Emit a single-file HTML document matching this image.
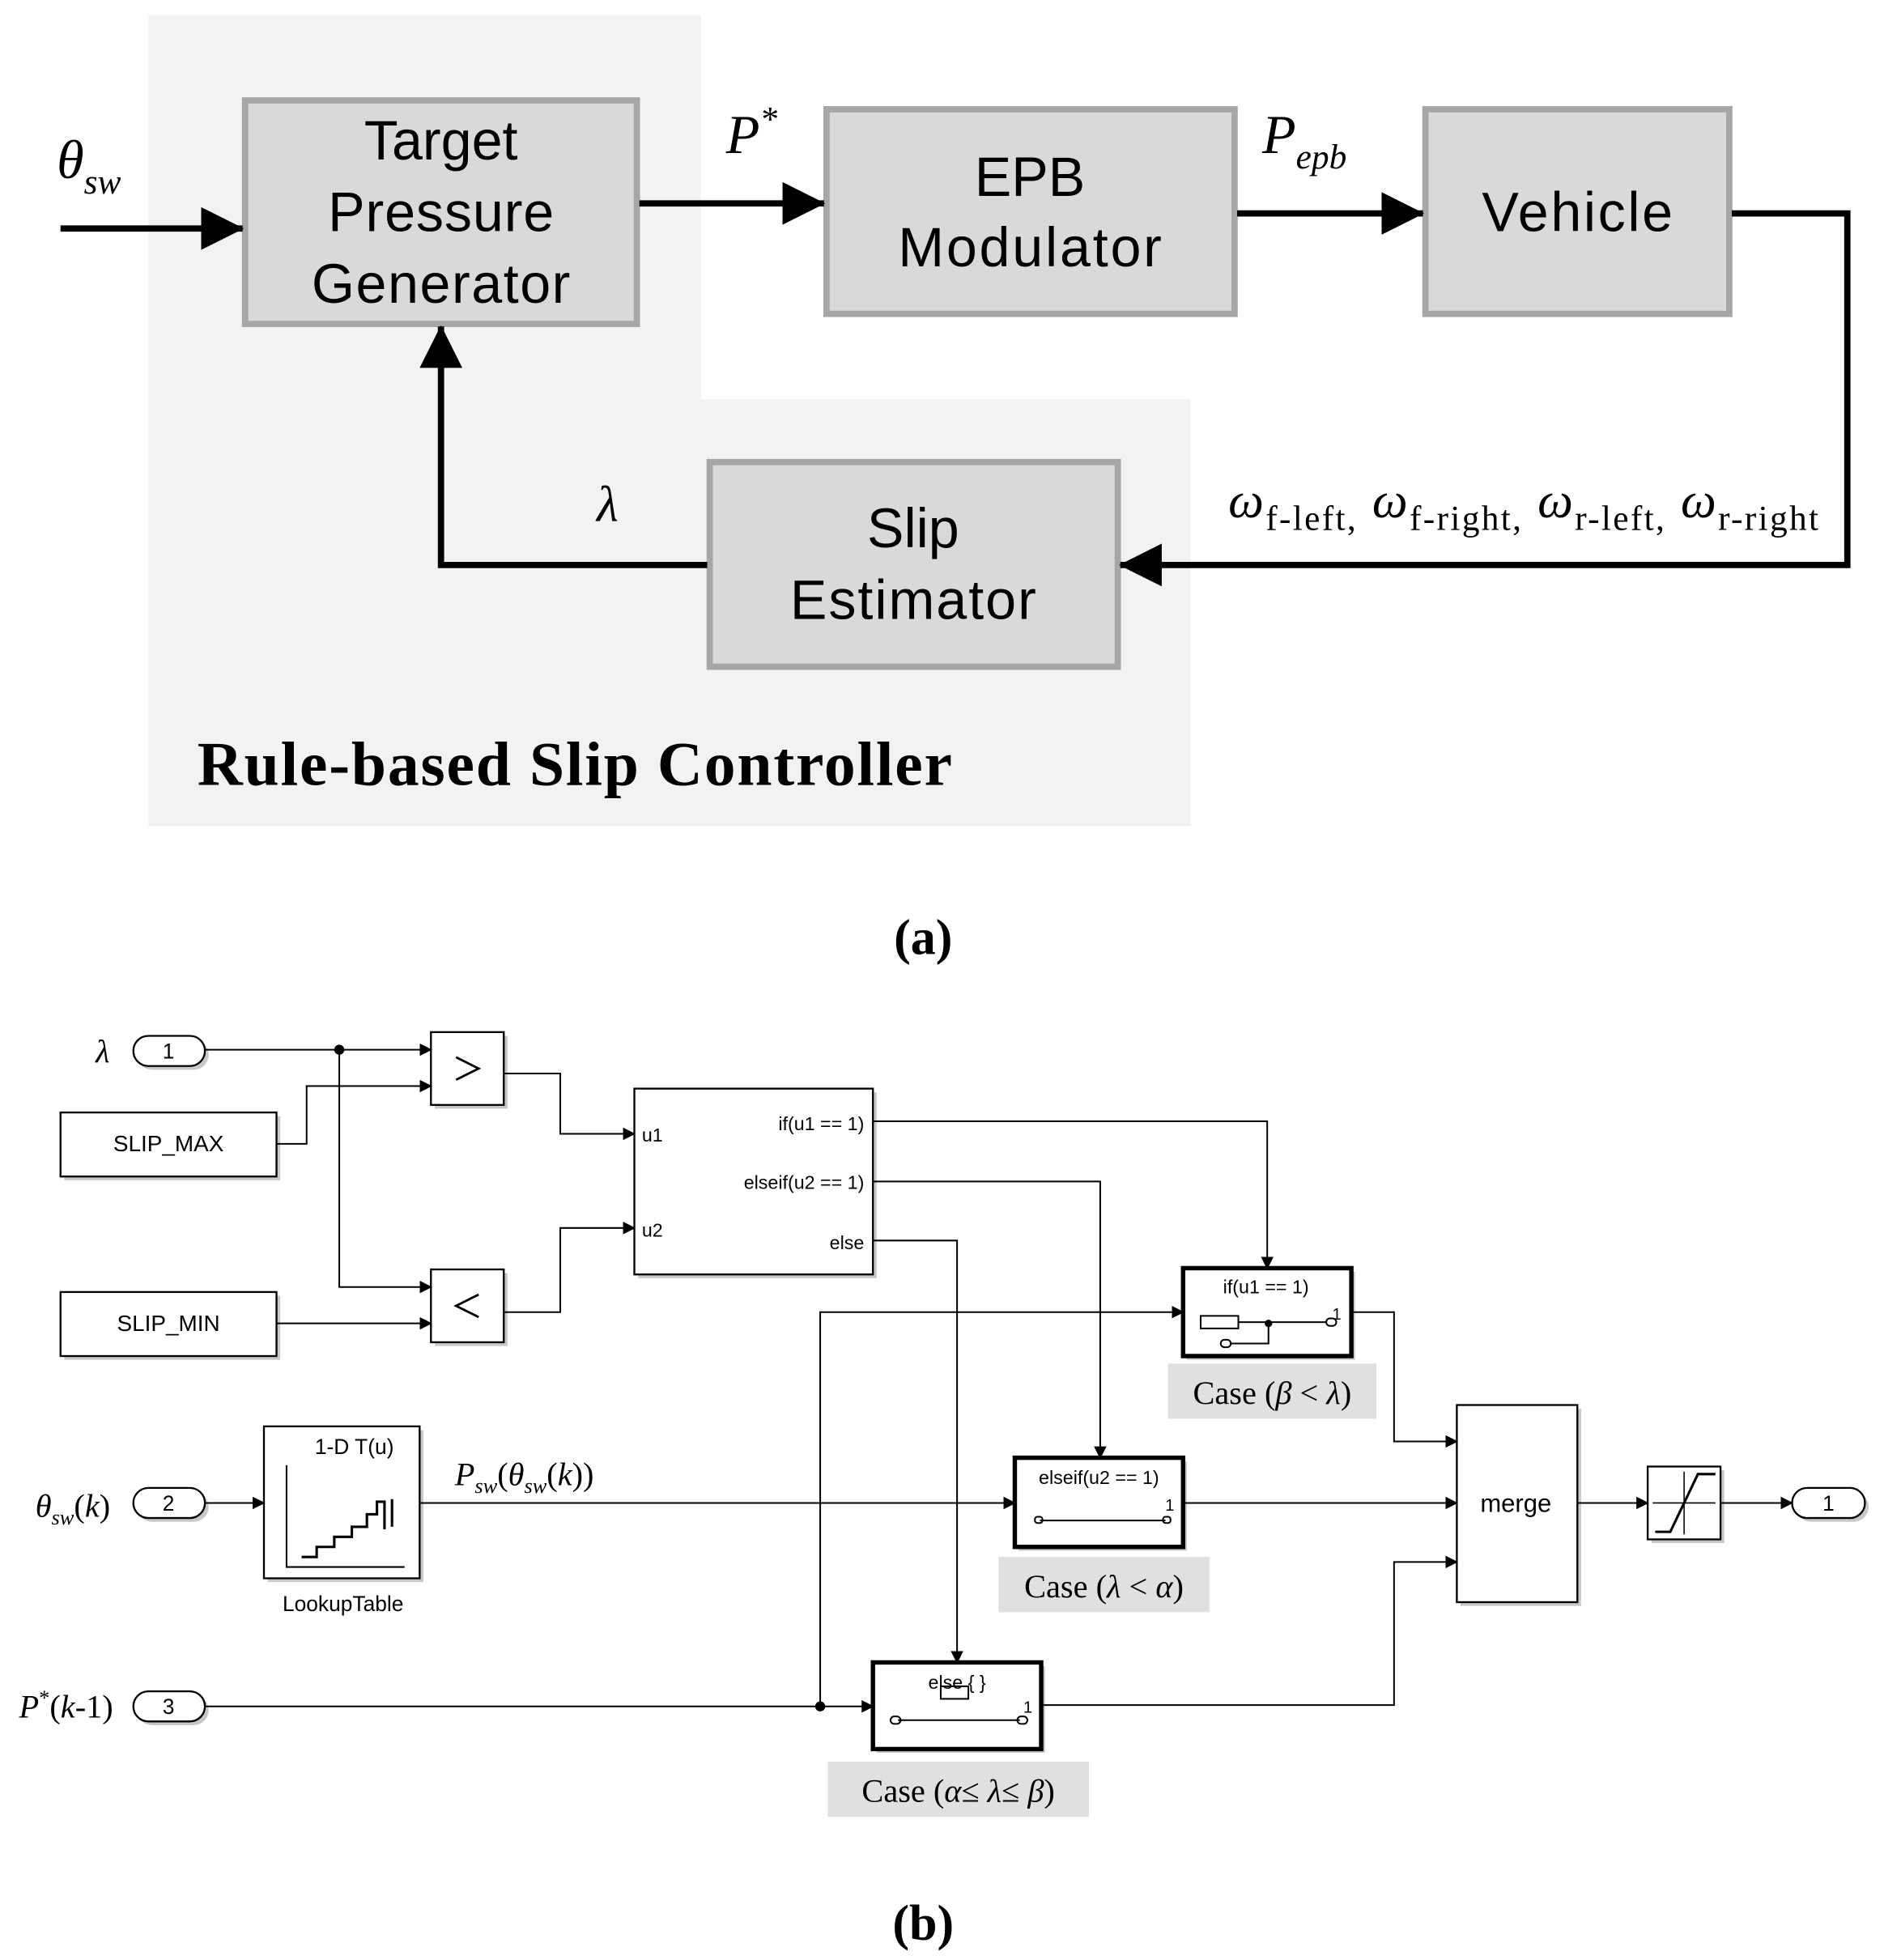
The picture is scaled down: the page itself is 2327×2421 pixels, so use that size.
<!DOCTYPE html>
<html><head><meta charset="utf-8"><style>
html,body{margin:0;padding:0;background:#fff}
svg{display:block}
.s{font-family:"Liberation Sans",sans-serif}
.r{font-family:"Liberation Serif",serif}
</style></head><body>
<svg width="2327" height="2421" viewBox="0 0 1500 1561" xmlns="http://www.w3.org/2000/svg">
<defs>
<marker id="A" markerWidth="10" markerHeight="10" refX="9" refY="5" orient="auto" markerUnits="userSpaceOnUse" viewBox="0 0 10 10"><path d="M0,0 L10,5 L0,10z" fill="#000"/></marker>
<marker id="B" markerWidth="34" markerHeight="34" refX="33" refY="17" orient="auto" markerUnits="userSpaceOnUse" viewBox="0 0 34 34"><path d="M0,0 L34,17 L0,34z" fill="#000"/></marker>
</defs>
<!-- (a) -->
<path d="M118,12 H558 V318 H948 V658 H118Z" fill="#f2f2f2"/>
<g fill="#d9d9d9" stroke="#a6a6a6" stroke-width="5">
<rect x="195" y="80" width="312" height="178"/>
<rect x="658" y="87" width="325" height="163"/>
<rect x="1135" y="87" width="242" height="163"/>
<rect x="565" y="368" width="325" height="163"/>
</g>
<g class="s" font-size="44" text-anchor="middle" fill="#000">
<text x="351" y="127">Target</text>
<text x="351" y="184" textLength="180">Pressure</text>
<text x="351" y="241" textLength="206">Generator</text>
<text x="820" y="156">EPB</text>
<text x="820" y="212" textLength="210">Modulator</text>
<text x="1256" y="184" textLength="152">Vehicle</text>
<text x="727" y="436">Slip</text>
<text x="727" y="493" textLength="196">Estimator</text>
</g>
<g stroke="#000" stroke-width="5" fill="none">
<path d="M48,182 H193" marker-end="url(#B)"/>
<path d="M509,162 H656" marker-end="url(#B)"/>
<path d="M985,170 H1133" marker-end="url(#B)"/>
<path d="M1379,170 H1471 V450 H892" marker-end="url(#B)"/>
<path d="M563,450 H351 V260" marker-end="url(#B)"/>
</g>
<g class="r" font-style="italic" fill="#000">
<text x="45" y="142" font-size="44">θ<tspan font-size="28" dy="12">sw</tspan></text>
<text x="578" y="122" font-size="44">P<tspan font-size="28" dy="-18">*</tspan></text>
<text x="1005" y="122" font-size="44">P<tspan font-size="28" dy="12">epb</tspan></text>
<text x="475" y="415" font-size="40">λ</text>
<text x="978" y="412" font-size="40" textLength="470" lengthAdjust="spacing">ω<tspan font-size="28" font-style="normal" dy="10">f-left,</tspan><tspan dy="-10">  ω</tspan><tspan font-size="28" font-style="normal" dy="10">f-right,</tspan><tspan dy="-10">  ω</tspan><tspan font-size="28" font-style="normal" dy="10">r-left,</tspan><tspan dy="-10">  ω</tspan><tspan font-size="28" font-style="normal" dy="10">r-right</tspan></text>
</g>
<text class="r" x="157" y="625" font-size="50" font-weight="bold" textLength="601">Rule-based Slip Controller</text>
<text class="r" x="735" y="760" font-size="40" font-weight="bold" text-anchor="middle">(a)</text>

<!-- (b) -->
<g fill="#c8c8c8">
<rect x="51" y="889" width="172" height="51"/><rect x="51" y="1032" width="172" height="51"/>
<rect x="346" y="825" width="58" height="58"/><rect x="346" y="1014" width="58" height="58"/>
<rect x="508" y="870" width="190" height="148"/><rect x="213" y="1139" width="124" height="121"/>
<rect x="1163" y="1122" width="96" height="157"/><rect x="1315" y="1171" width="58" height="58"/>
<rect x="945" y="1013" width="134" height="70"/><rect x="811" y="1164" width="134" height="71"/><rect x="698" y="1327" width="134" height="69"/>
<rect x="109" y="828" width="57" height="24" rx="12"/><rect x="109" y="1188" width="57" height="24" rx="12"/><rect x="109" y="1350" width="57" height="24" rx="12"/><rect x="1430" y="1188" width="58" height="24" rx="12"/>
</g>
<g fill="#fff" stroke="#000" stroke-width="1.5">
<rect x="48" y="886" width="172" height="51"/><rect x="48" y="1029" width="172" height="51"/>
<rect x="343" y="822" width="58" height="58"/><rect x="343" y="1011" width="58" height="58"/>
<rect x="505" y="867" width="190" height="148"/><rect x="210" y="1136" width="124" height="121"/>
<rect x="1160" y="1119" width="96" height="157"/><rect x="1312" y="1168" width="58" height="58"/>
<rect x="106" y="825" width="57" height="24" rx="12"/><rect x="106" y="1185" width="57" height="24" rx="12"/><rect x="106" y="1347" width="57" height="24" rx="12"/><rect x="1427" y="1185" width="58" height="24" rx="12"/>
</g>
<g fill="#fff" stroke="#000" stroke-width="3.5">
<rect x="942" y="1010" width="134" height="70"/><rect x="808" y="1161" width="134" height="71"/><rect x="695" y="1324" width="134" height="69"/>
</g>
<g fill="#e0e0e0">
<rect x="930" y="1086" width="166" height="44"/><rect x="795" y="1240" width="168" height="44"/><rect x="659" y="1403" width="208" height="44"/>
</g>
<g stroke="#000" stroke-width="1.3" fill="none">
<path d="M163,836 H343" marker-end="url(#A)"/>
<path d="M270,836 V1025 H343" marker-end="url(#A)"/>
<path d="M220,911 H244 V865 H343" marker-end="url(#A)"/>
<path d="M220,1054 H343" marker-end="url(#A)"/>
<path d="M401,855 H446 V903 H505" marker-end="url(#A)"/>
<path d="M401,1045 H446 V978 H505" marker-end="url(#A)"/>
<path d="M695,893 H1009 V1010" marker-end="url(#A)"/>
<path d="M695,941 H876 V1161" marker-end="url(#A)"/>
<path d="M695,988 H762 V1324" marker-end="url(#A)"/>
<path d="M163,1197 H210" marker-end="url(#A)"/>
<path d="M334,1197 H808" marker-end="url(#A)"/>
<path d="M163,1359 H695" marker-end="url(#A)"/>
<path d="M653,1359 V1045 H942" marker-end="url(#A)"/>
<path d="M1076,1045 H1110 V1148 H1160" marker-end="url(#A)"/>
<path d="M942,1197 H1160" marker-end="url(#A)"/>
<path d="M829,1358 H1110 V1244 H1160" marker-end="url(#A)"/>
<path d="M1256,1197 H1312" marker-end="url(#A)"/>
<path d="M1370,1197 H1427" marker-end="url(#A)"/>
<path d="M363,842 L381,851 L363,860" stroke-width="1.8"/>
<path d="M381,1031 L363,1040 L381,1049" stroke-width="1.8"/>
<path d="M228,1167 V1248 H322"/>
<path d="M240,1240 H252 V1232 H266 V1224 H280 V1216 H292 V1206 H300 V1196 H306 V1218 M312,1194 V1216" stroke-width="2"/>
<path d="M1341,1172 V1222 M1316,1197 H1366" stroke-width="1"/>
<path d="M1318,1220 H1330 L1352,1174 H1366" stroke-width="2"/>
<rect x="956" y="1048" width="30" height="10"/><path d="M986,1053 H1056 M1010,1053 V1070 H980"/>
<rect x="1056" y="1050" width="8" height="6" rx="3"/><rect x="972" y="1067" width="8" height="6" rx="3"/>
<path d="M828,1211 H928"/><rect x="824" y="1208" width="6" height="5" rx="2"/><rect x="926" y="1208" width="6" height="5" rx="2"/>
<path d="M715,1370 H812"/><rect x="709" y="1367" width="8" height="6" rx="3"/><rect x="810" y="1367" width="8" height="6" rx="3"/>
<rect x="749" y="1343" width="22" height="10"/>
</g>
<circle cx="270" cy="836" r="4"/><circle cx="653" cy="1359" r="4"/><circle cx="1010" cy="1054" r="3"/>
<g class="s" fill="#000">
<text x="134" y="843" font-size="17" text-anchor="middle">1</text>
<text x="134" y="1203" font-size="17" text-anchor="middle">2</text>
<text x="134" y="1365" font-size="17" text-anchor="middle">3</text>
<text x="1456" y="1203" font-size="17" text-anchor="middle">1</text>
<text x="134" y="917" font-size="18" text-anchor="middle">SLIP_MAX</text>
<text x="134" y="1060" font-size="18" text-anchor="middle">SLIP_MIN</text>
<text x="511" y="909" font-size="15">u1</text>
<text x="511" y="985" font-size="15">u2</text>
<text x="688" y="900" font-size="15" text-anchor="end">if(u1 == 1)</text>
<text x="688" y="947" font-size="15" text-anchor="end">elseif(u2 == 1)</text>
<text x="688" y="995" font-size="15" text-anchor="end">else</text>
<text x="1008" y="1030" font-size="15" text-anchor="middle">if(u1 == 1)</text>
<text x="1068" y="1051" font-size="13" text-anchor="end">1</text>
<text x="875" y="1182" font-size="15" text-anchor="middle">elseif(u2 == 1)</text>
<text x="935" y="1203" font-size="13" text-anchor="end">1</text>
<text x="762" y="1345" font-size="15" text-anchor="middle">else { }</text>
<text x="822" y="1364" font-size="13" text-anchor="end">1</text>
<text x="282" y="1158" font-size="17" text-anchor="middle">1-D T(u)</text>
<text x="273" y="1283" font-size="17" text-anchor="middle">LookupTable</text>
<text x="1207" y="1204" font-size="20" text-anchor="middle">merge</text>
</g>
<g class="r" fill="#000" font-size="26">
<text x="76" y="846" font-style="italic">λ</text>
<text x="28" y="1208"><tspan font-style="italic">θ</tspan><tspan font-size="17" font-style="italic" dy="6">sw</tspan><tspan dy="-6">(</tspan><tspan font-style="italic">k</tspan>)</text>
<text x="15" y="1368"><tspan font-style="italic">P</tspan><tspan font-size="17" dy="-10">*</tspan><tspan dy="10">(</tspan><tspan font-style="italic">k</tspan>-1)</text>
<text x="362" y="1183"><tspan font-style="italic">P</tspan><tspan font-size="17" font-style="italic" dy="6">sw</tspan><tspan dy="-6">(</tspan><tspan font-style="italic">θ</tspan><tspan font-size="17" font-style="italic" dy="6">sw</tspan><tspan dy="-6">(</tspan><tspan font-style="italic">k</tspan>))</text>
<text x="1013" y="1118" text-anchor="middle">Case (<tspan font-style="italic">β</tspan> &lt; <tspan font-style="italic">λ</tspan>)</text>
<text x="879" y="1272" text-anchor="middle">Case (<tspan font-style="italic">λ</tspan> &lt; <tspan font-style="italic">α</tspan>)</text>
<text x="763" y="1435" text-anchor="middle">Case (<tspan font-style="italic">α</tspan>≤ <tspan font-style="italic">λ</tspan>≤ <tspan font-style="italic">β</tspan>)</text>
</g>
<text class="r" x="735" y="1545" font-size="40" font-weight="bold" text-anchor="middle">(b)</text>
</svg>
</body></html>
